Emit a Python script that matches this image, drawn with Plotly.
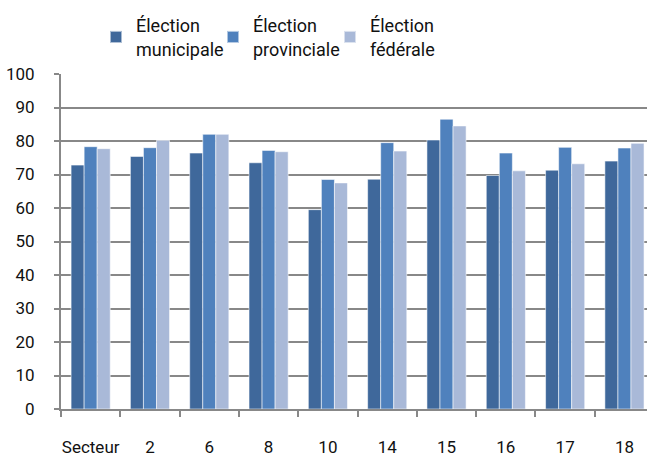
import plotly.graph_objects as go

categories = ["Secteur", "2", "6", "8", "10", "14", "15", "16", "17", "18"]
municipale = [72.8, 75.4, 76.4, 73.5, 59.5, 68.6, 80.3, 69.7, 71.3, 74.0]
provinciale = [78.3, 78.0, 82.0, 77.2, 68.5, 79.5, 86.5, 76.4, 78.1, 77.9]
federale = [77.7, 80.2, 82.0, 76.8, 67.5, 77.0, 84.5, 71.1, 73.2, 79.3]
series_names = ["Élection<br>municipale", "Élection<br>provinciale", "Élection<br>fédérale"]
colors = ["#3F689B", "#4F81BD", "#A9B9D8"]

FONT = "Roboto, Liberation Sans, sans-serif"

fig = go.Figure()
for name, vals, col in zip(series_names, [municipale, provinciale, federale], colors):
    fig.add_trace(go.Bar(
        x=categories, y=vals, name=name,
        marker=dict(color=col, line=dict(color="rgba(255,255,255,0.55)", width=1)),
    ))

fig.update_layout(
    width=647, height=458,
    margin=dict(l=61, r=0, t=74, b=49),
    paper_bgcolor="white", plot_bgcolor="white",
    barmode="group", bargap=0.34, bargroupgap=0,
    font=dict(family=FONT, size=17, color="#111111"),
    showlegend=True,
    legend=dict(
        orientation="h", x=96/647, xanchor="left", xref="container",
        y=1 - 7/458, yanchor="top", yref="container",
        font=dict(family=FONT, size=18, color="#111111"),
        entrywidth=72, entrywidthmode="pixels",
        traceorder="normal", itemsizing="constant",
    ),
    xaxis=dict(
        type="category", range=[-0.5, 9.38],
        showgrid=False, showline=True, linecolor="#888888", linewidth=2,
        ticks="outside", tickson="boundaries", ticklen=6, tickcolor="#888888", tickwidth=2,
        tickangle=0, automargin=False, ticklabelstandoff=22,
        tickfont=dict(family=FONT, size=17, color="#111111"),
    ),
    yaxis=dict(
        range=[0, 100], dtick=10,
        showgrid=True, gridcolor="#888888", gridwidth=2,
        showline=True, linecolor="#888888", linewidth=2,
        ticks="outside", ticklen=5, tickcolor="#888888", tickwidth=2,
        zeroline=False, automargin=False, ticklabelstandoff=16,
        tickfont=dict(family=FONT, size=17, color="#111111"),
    ),
)

fig.write_html(
    "out.html",
    config={"displayModeBar": False},
    post_script="document.body.style.margin='0';document.body.style.overflow='hidden';",
)
